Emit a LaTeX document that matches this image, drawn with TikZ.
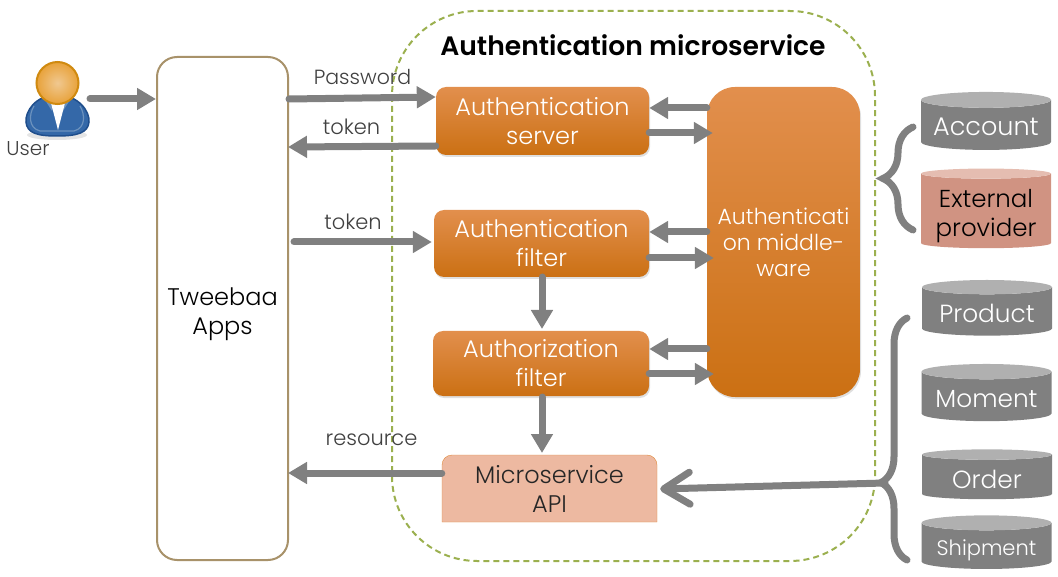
\documentclass[tikz,border=0pt]{standalone}
\usepackage{fontspec}
\setmainfont{Poppins Light}[BoldFont=Poppins SemiBold]
\usetikzlibrary{arrows.meta,shapes.geometric,shadows,decorations.pathreplacing}
\definecolor{arrowgray}{HTML}{808080}
\definecolor{textgray}{HTML}{404040}
\definecolor{boxtop}{HTML}{E28F4D}
\definecolor{boxbottom}{HTML}{CB7013}
\definecolor{apifill}{HTML}{EDB9A1}
\definecolor{apiline}{HTML}{E08B3C}
\definecolor{dashgreen}{HTML}{9BB04F}
\definecolor{appsline}{HTML}{A8926A}
\definecolor{extbody}{HTML}{D09382}
\definecolor{exttop}{HTML}{E5BDB1}
\definecolor{endgray}{HTML}{B0B0B0}
\definecolor{userblue}{HTML}{3468A8}
\definecolor{userline}{HTML}{1F4E8C}
\definecolor{userlight}{HTML}{6C92BE}
\definecolor{headline}{HTML}{D08A10}
\definecolor{headinner}{HTML}{F0C890}
\definecolor{headouter}{HTML}{E8A23A}
\tikzset{
  orangebox/.style={rounded corners=10,top color=boxtop,bottom color=boxbottom,text=white,
    align=center,inner sep=0,font=\fontsize{24}{29}\selectfont,
    drop shadow={shadow xshift=1pt,shadow yshift=-2pt,opacity=.25}},
  arrowline/.style={draw=arrowgray,line width=7,line cap=round,
    -{Triangle[length=19,width=21]}},
  bracket/.style={draw=arrowgray,line width=7,line cap=round,decorate},
  database/.style={cylinder,shape border rotate=90,aspect=.15,draw=none,cylinder uses custom fill,
    cylinder body fill=arrowgray,cylinder end fill=endgray,inner sep=0,minimum width=130,
    text=white,align=center,font=\fontsize{24.8}{29}\selectfont},
  dbline/.style={text height=28pt,text depth=6pt},
  edgelabel/.style={text=textgray,font=\fontsize{21}{24}\selectfont,inner sep=0}
}
\begin{document}
\begin{tikzpicture}[x=1pt,y=-1pt]
\useasboundingbox (0,0) rectangle (1058,577);
\draw[dashgreen,line width=2,dash pattern=on 6 off 4,rounded corners=85] (392,11) rectangle (875,561);
\node[draw=appsline,line width=2,rounded corners=20,minimum width=131,minimum height=503,inner sep=0] (apps) at (222.5,308.5) {};
\node[align=center,font=\fontsize{24}{29}\selectfont,inner sep=0] (appstext) at (222.5,314) {Tweebaa\\Apps};
\node[inner sep=0,font=\bfseries\fontsize{26.6}{30}\selectfont] (title) at (633,45) {Authentication microservice};
\node[orangebox,minimum width=213,minimum height=68] (server) at (542.5,121) {Authentication\\server};
\node[orangebox,minimum width=215,minimum height=67] (filter) at (541.5,243.5) {Authentication\\filter};
\node[orangebox,minimum width=216,minimum height=65] (authz) at (541,363.5) {Authorization\\filter};
\node[orangebox,rounded corners=28,minimum width=153,minimum height=310,font=\fontsize{22}{26}\selectfont] (middle) at (783.5,242) {Authenticati\\on middle-\\ware};
\draw[draw=apiline,fill=apifill] (442,522) [rounded corners=10] -- (442,455) -- (657,455) [sharp corners] -- (657,522) -- cycle;
\node[minimum width=215,minimum height=67,inner sep=0,align=center,text=black!85,font=\fontsize{24}{29}\selectfont] (api) at (549.5,489) {Microservice\\API};
\node[database,dbline,minimum height=48,font=\fontsize{25.5}{29}\selectfont] (account) at (986,125) {Account};
\node[database,aspect=.1,minimum height=64,cylinder body fill=extbody,cylinder end fill=exttop,text=black,font=\fontsize{24.5}{29}\selectfont] (external) at (986,211) {\rule{0pt}{29pt}External\\provider};
\node[database,dbline,minimum height=49] (product) at (987,311.5) {Product};
\node[database,dbline,minimum height=49] (moment) at (986.5,396.5) {Moment};
\node[database,dbline,minimum height=48] (order) at (987,477) {Order};
\node[database,dbline,minimum height=48,text height=25pt,font=\fontsize{21}{24}\selectfont] (shipment) at (986.5,546) {Shipment};
\fill[black!25,opacity=.4] (57,135) ellipse (30 and 5);
\path[draw=userline,line width=1.5,fill=userblue] (57,95) .. controls (35,95) and (25,112) .. (26,122) .. controls (27,133) and (37,136) .. (57,136) .. controls (77,136) and (88,133) .. (89,122) .. controls (90,112) and (79,95) .. (57,95) -- cycle;
\draw[userlight,line width=1.2] (34,106) .. controls (29,114) and (28,128) .. (40,131) -- (74,131) .. controls (86,128) and (85,114) .. (80,106);
\fill[userlight] (45,100) -- (52,111) -- (56,104) -- cycle;
\fill[userlight] (70,100) -- (63,111) -- (59,104) -- cycle;
\fill[white] (51,103) -- (58,130) -- (65,103) -- cycle;
\shade[inner color=headinner,outer color=headouter,draw=headline,line width=2] (57.5,83) circle (21);
\coordinate (user) at (90,99);
\node[edgelabel,font=\fontsize{20}{24}\selectfont] (userlabel) at (28,149) {User};
\node[edgelabel,font=\fontsize{20.5}{24}\selectfont] (password) at (362.5,77) {Password};
\node[edgelabel] (tokenback) at (351.5,127) {token};
\node[edgelabel] (tokenforward) at (353,222) {token};
\node[edgelabel] (resource) at (371.5,440) {resource};
\draw[arrowline] (user) -- (apps.west |- user);
\draw[arrowline] (apps.east |- 0,99) -- (server.west |- 0,97);
\draw[arrowline] (server.west |- 0,146) -- ([xshift=-1]apps.east |- 0,147);
\draw[arrowline] ([xshift=5]apps.east |- 0,242) -- ([xshift=-2]filter.west |- 0,242);
\draw[arrowline] (api.west |- 0,473) -- ([xshift=-1]apps.east |- 0,473);
\draw[arrowline] (542,277) -- (542,329);
\draw[arrowline] (542,397) -- (542,453);
\draw[arrowline] (middle.west |- 0,108) -- (server.east |- 0,108);
\draw[arrowline] (server.east |- 0,133) -- ([xshift=6]middle.west |- 0,133);
\draw[arrowline] (middle.west |- 0,232) -- (filter.east |- 0,232);
\draw[arrowline] (filter.east |- 0,258) -- ([xshift=7]middle.west |- 0,258);
\draw[arrowline] (middle.west |- 0,349) -- (authz.east |- 0,349);
\draw[arrowline] (authz.east |- 0,374) -- ([xshift=7]middle.west |- 0,374);
\coordinate (accounttop) at (913,127);
\coordinate (accountbottom) at (913,230);
\coordinate (storetop) at (907,318);
\coordinate (storebottom) at (907,560);
\draw[bracket,decoration={brace,amplitude=30,aspect=.5}] (accountbottom) -- (accounttop);
\draw[bracket,decoration={brace,amplitude=26,aspect=.32}] (storebottom) -- (storetop);
\coordinate (storetip) at (885,483);
\draw[draw=arrowgray,line width=7,line cap=round,-{Straight Barb[length=26,width=32,round]}] (storetip) -- ([xshift=3]api.east |- 0,489);
\end{tikzpicture}
\end{document}
